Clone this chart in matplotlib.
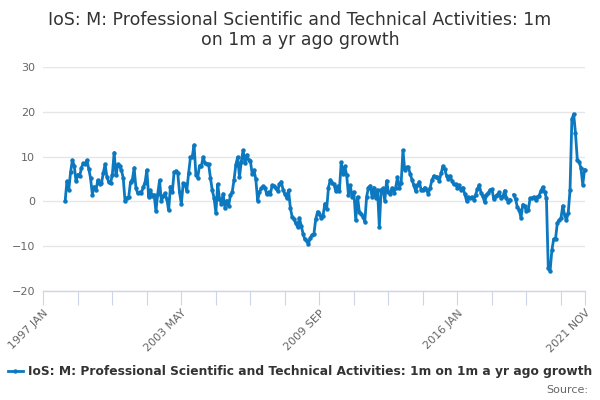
import numpy as np
import pandas as pd
import matplotlib
matplotlib.use("Agg")
import matplotlib.pyplot as plt

title = "IoS: M: Professional Scientific and Technical Activities: 1m\non 1m a yr ago growth"
series_name = "IoS: M: Professional Scientific and Technical Activities: 1m on 1m a yr ago growth"

# monthly growth, 1998 JAN .. 2021 NOV (1997 has no value)
y1998 = [0, 4.5, 2.5, 6.5, 9.2, 8.0, 4.5, 6.0, 5.6, 7.5, 8.5, 8.3]
y1999 = [9.2, 7.3, 5.2, 1.5, 3.3, 2.5, 4.7, 3.8, 4.0, 6.3, 8.3, 5.5]
y2000 = [4.3, 4.0, 6.0, 10.9, 5.8, 8.3, 7.8, 7.0, 5.2, 0, 0.8, 1.0]
y2001 = [4.3, 4.8, 7.5, 3.0, 1.8, 2.0, 1.8, 3.2, 4.2, 7.0, 1.0, 2.5]
y2002 = [1.2, 1.5, -2.2, 1.7, 4.7, 0, 1.2, 1.8, 0.5, -2.0, 3.3, 2.0]
y2003 = [6.5, 6.8, 6.3, 2.0, -0.6, 4.0, 3.8, 2.4, 6.3, 9.8, 10.0, 12.6]
y2004 = [6.0, 5.3, 8.0, 7.9, 9.9, 8.5, 8.4, 8.3, 5.3, 2.5, 0.8, -2.6]
y2005 = [3.8, 0.6, -0.5, 1.7, -1.4, 0.2, -1.1, 1.4, 2.1, 4.8, 8.2, 9.9]
y2006 = [5.4, 8.9, 11.4, 8.5, 10.4, 9.3, 9.1, 6.1, 7.0, 4.9, 0.2, 2.1]
y2007 = [2.9, 3.4, 3.1, 1.6, 2.1, 1.7, 3.6, 3.4, 2.9, 2.3, 3.8, 4.4]
y2008 = [2.6, 1.6, 0.8, 2.5, -1.4, -3.5, -3.9, -4.9, -5.7, -3.7, -5.4, -7.2]
y2009 = [-8.5, -8.8, -9.5, -8.1, -7.5, -7.2, -3.9, -2.3, -2.8, -3.7, -3.2, -0.5]
y2010 = [-1.7, 3.1, 4.8, 4.2, 3.8, 2.3, 3.4, 2.3, 8.7, 6.1, 7.8, 5.9]
y2011 = [1.5, 3.6, 1.0, 2.1, -4.2, 1.0, -2.3, -2.8, -3.4, -4.5, 1.0, 3.1]
y2012 = [3.5, 1.0, 3.1, 0.8, 2.6, -5.7, 2.6, 2.9, 0.1, 4.6, 2.1, 1.7]
y2013 = [3.0, 1.9, 3.1, 5.4, 3.1, 4.0, 11.4, 7.0, 7.6, 7.6, 6.1, 4.8]
y2014 = [3.6, 2.3, 3.6, 4.4, 2.6, 2.6, 3.1, 2.5, 1.7, 3.1, 4.8, 5.7]
y2015 = [5.5, 5.4, 4.6, 6.3, 7.9, 7.2, 5.7, 5.1, 5.7, 4.6, 3.8, 3.8]
y2016 = [3.1, 3.6, 2.5, 3.1, 1.7, 0.2, 1.0, 0.8, 1.0, 0.4, 1.5, 2.7]
y2017 = [3.7, 1.9, 1.1, -0.2, 1.5, 1.9, 2.6, 2.7, 0.5, 1.1, 1.5, 2.0]
y2018 = [0.7, 1.1, 2.4, 0.7, -0.1, 0.4, None, 1.5, 0.5, -1.3, -1.9, -3.7]
y2019 = [-0.7, -1.1, -2.2, -1.9, 0.7, 0.7, 1.0, 0.4, 1.0, 1.3, 2.4, 3.2]
y2020 = [2.2, 0.7, -14.8, -15.6, -10.9, -8.4, -8.4, -4.8, -4.2, -3.7, -1.0, -3.0]
y2021 = [-4.2, -2.6, 2.6, 18.3, 19.5, 15.2, 9.3, 8.9, 7.4, 3.7, 7.1]

values = (y1998 + y1999 + y2000 + y2001 + y2002 + y2003 + y2004 + y2005
          + y2006 + y2007 + y2008 + y2009 + y2010 + y2011 + y2012 + y2013
          + y2014 + y2015 + y2016 + y2017 + y2018 + y2019 + y2020 + y2021)

months = pd.date_range("1997-01-01", "2021-11-01", freq="MS")
labels = [d.strftime("%Y %b").upper() for d in months]
vals = pd.Series([np.nan] * 12 + [np.nan if v is None else v for v in values], index=range(len(months)))

tick_step = 19
labelled = ["1997 JAN", "2003 MAY", "2009 SEP", "2016 JAN", "2021 NOV"]

line_col = "#0b78c0"
grid_col = "#e6e6e6"
axis_col = "#ccd6eb"
text_col = "#666666"

fig = plt.figure(figsize=(6, 4), dpi=100)
ax = fig.add_axes([0.0722, 0.2725, 0.9036, 0.56])

x = np.arange(len(months))
ax.plot(x, vals.values, color=line_col, lw=2, marker="o", markersize=3.2,
        markeredgewidth=0, zorder=3, clip_on=False)

ax.set_xlim(0, len(months) - 0.5)
ax.set_ylim(-20, 30)
ax.set_yticks([-20, -10, 0, 10, 20, 30])
ax.grid(axis="y", color=grid_col, lw=1)
ax.set_axisbelow(True)
for s in ["top", "right", "left"]:
    ax.spines[s].set_visible(False)
ax.spines["bottom"].set_color(axis_col)
ax.spines["bottom"].set_linewidth(1)
ax.tick_params(axis="y", length=0, labelsize=8, labelcolor=text_col, pad=6)

ticks = list(range(0, len(months), tick_step)) + [len(months) - 0.5]
ax.set_xticks(ticks)
ax.set_xticklabels(["1997 JAN" if t == 0 else (labels[t] if isinstance(t, int) and labels[t] in labelled else "")
                    for t in ticks[:-1]] + ["2021 NOV"],
                   rotation=45, ha="right", rotation_mode="anchor")
ax.tick_params(axis="x", length=10, color=axis_col, labelsize=8,
               labelcolor=text_col, pad=2)

fig.text(0.5, 0.925, title, ha="center", va="center", fontsize=12.5,
         color="#333333", linespacing=1.2)

leg = ax.legend([series_name], loc="center", bbox_to_anchor=(0.5, 0.07),
                bbox_transform=fig.transFigure, frameon=False,
                handlelength=1.2, handletextpad=0.4,
                prop={"weight": "bold", "size": 8.8})
for t in leg.get_texts():
    t.set_color("#333333")
fig.text(0.98, 0.025, "Source:", ha="right", va="center", fontsize=8, color=text_col)

fig.savefig("out.png", dpi=100)
